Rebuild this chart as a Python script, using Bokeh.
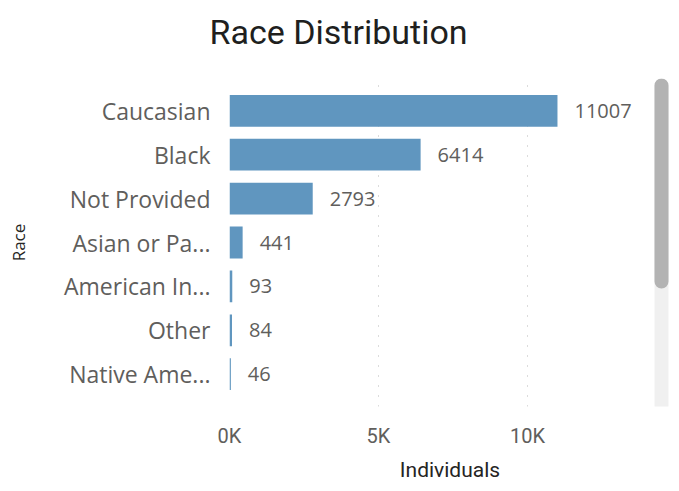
from bokeh.plotting import figure
from bokeh.models import FactorRange, Range1d, FixedTicker, BoxAnnotation, ColumnDataSource
from bokeh.embed import file_html
from bokeh.resources import INLINE
from bokeh.core.properties import value

# ---- data ----
categories = ["Caucasian", "Black", "Not Provided", "Asian or Pa...",
              "American In...", "Other", "Native Ame..."]
individuals = [11007, 6414, 2793, 441, 93, 84, 46]
tick_values = [0, 5000, 10000]
tick_labels = ["0K", "5K", "10K"]
title_text = "Race Distribution"
x_title = "Individuals"
y_title = "Race"

src = ColumnDataSource(dict(cat=categories, val=individuals,
                            lbl=[str(v) for v in individuals]))

W, H = 679, 491
p = figure(width=W, height=H, output_backend="svg", toolbar_location=None,
           y_range=FactorRange(factors=list(reversed(categories)),
                               range_padding=0.235, range_padding_units="absolute",
                               factor_padding=0),
           x_range=Range1d(0, 14800),
           min_border_left=229, min_border_right=9,
           min_border_top=76, min_border_bottom=85)

p.title.text = title_text
p.title.align = "left"
p.title.offset = -20
p.title.standoff = 18
p.title.padding = dict(left=0, right=0, top=0, bottom=18)
p.title.text_font = "Roboto"
p.title.text_font_size = "34px"
p.title.text_font_style = "normal"
p.title.text_color = "#201F1E"

p.outline_line_color = None
p.background_fill_color = "white"
p.border_fill_color = "white"

p.hbar(y="cat", left=0, right="val", height=0.724, source=src,
       fill_color="#6096BF", line_color=None)

p.text(x="val", y="cat", text="lbl", source=src, x_offset=17,
       text_baseline="middle", text_align="left",
       text_font=value("Open Sans"), text_font_size="20px",
       text_color="#605E5C")

# x axis
xa = p.xaxis[0]
xa.ticker = FixedTicker(ticks=tick_values)
xa.major_label_overrides = dict(zip(tick_values, tick_labels))
xa.axis_line_color = None
xa.major_tick_line_color = None
xa.minor_tick_line_color = None
xa.major_tick_out = 0
xa.major_label_standoff = 17
xa.major_label_text_font = "Roboto"
xa.major_label_text_font_size = "20px"
xa.major_label_text_color = "#605E5C"
xa.axis_label = x_title
xa.axis_label_text_font = "Roboto"
xa.axis_label_text_font_size = "21px"
xa.axis_label_text_font_style = "normal"
xa.axis_label_text_color = "#252423"
xa.axis_label_standoff = 7

# y axis
ya = p.yaxis[0]
ya.axis_line_color = None
ya.major_tick_line_color = None
ya.minor_tick_line_color = None
ya.major_tick_out = 0
ya.major_label_standoff = 19
ya.major_label_text_font = "Open Sans"
ya.major_label_text_font_size = "23px"
ya.major_label_text_color = "#605E5C"
ya.axis_label = y_title
ya.axis_label_text_font = "Open Sans"
ya.axis_label_text_font_size = "17px"
ya.axis_label_text_font_style = "normal"
ya.axis_label_text_color = "#252423"
ya.axis_label_standoff = 31

p.ygrid.grid_line_color = None
p.xgrid.grid_line_color = "#B8B8B8"
p.xgrid.grid_line_dash = "1 9"
p.xgrid.grid_line_width = 1

# scrollbar decoration (canvas pixel units)
track = BoxAnnotation(left=654, right=668, top=78, bottom=412,
                      left_units="canvas", right_units="canvas",
                      top_units="canvas", bottom_units="canvas",
                      fill_color="#F0F0F0", fill_alpha=1, line_color=None,
                      border_radius=7, level="overlay")
thumb = BoxAnnotation(left=654, right=668, top=78, bottom=288,
                      left_units="canvas", right_units="canvas",
                      top_units="canvas", bottom_units="canvas",
                      fill_color="#B3B3B3", fill_alpha=1, line_color=None,
                      border_radius=7, level="overlay")
p.add_layout(track)
p.add_layout(thumb)

open("out.html", "w").write(file_html(p, INLINE))
